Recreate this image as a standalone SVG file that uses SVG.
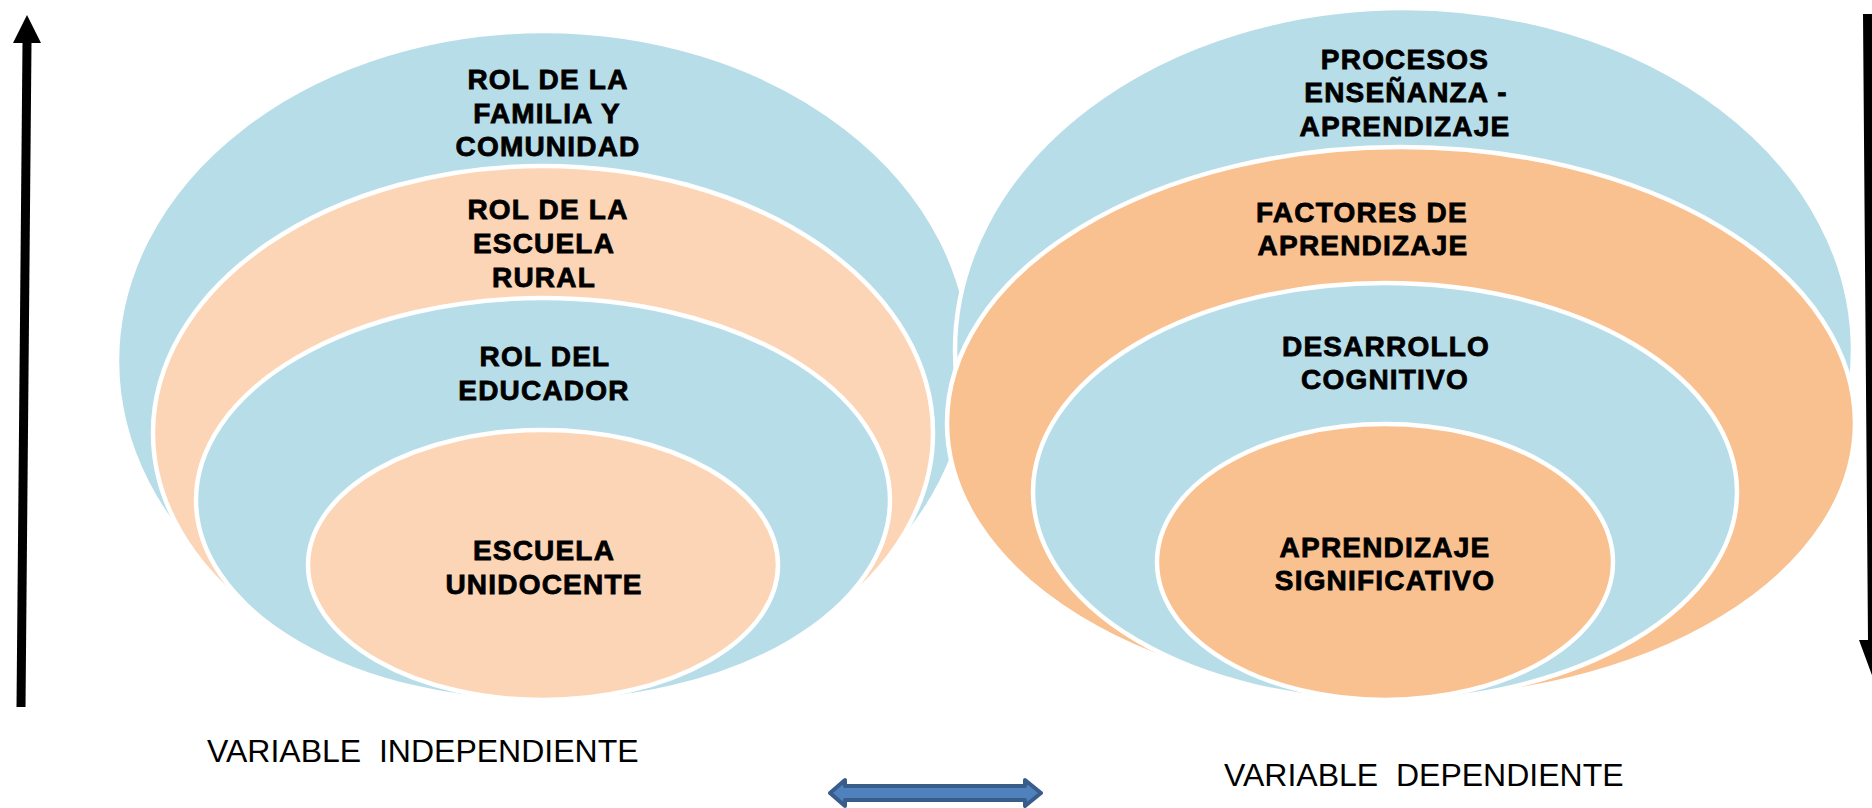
<svg xmlns="http://www.w3.org/2000/svg" width="1872" height="808" viewBox="0 0 1872 808">
<style>
.blue{fill:#B7DDE8;stroke:#FFFFFF;stroke-width:4.5}
.orl{fill:#FBD5B5;stroke:#FFFFFF;stroke-width:4.5}
.ord{fill:#F9C090;stroke:#FFFFFF;stroke-width:4.5}
.t{font-family:"Liberation Sans",Arial,sans-serif;font-weight:bold;font-size:28px;letter-spacing:1.2px;fill:#000;stroke:#000;stroke-width:0.8;text-anchor:middle}
.lab{font-family:"Liberation Sans",Arial,sans-serif;font-size:32px;fill:#000;white-space:pre}
</style>
<rect width="1872" height="808" fill="#FFFFFF"/>
<g id="left-outer"><ellipse class="blue" cx="544" cy="361" rx="427" ry="330"/><text class="t" x="548" y="89">ROL DE LA</text><text class="t" x="547" y="123">FAMILIA Y</text><text class="t" x="548" y="156">COMUNIDAD</text></g>
<g id="left-second"><ellipse class="orl" cx="543" cy="433" rx="390" ry="267"/><text class="t" x="548" y="219">ROL DE LA</text><text class="t" x="544" y="253">ESCUELA</text><text class="t" x="544" y="287">RURAL</text></g>
<g id="left-third"><ellipse class="blue" cx="543" cy="500" rx="347" ry="202"/><text class="t" x="545" y="366">ROL DEL</text><text class="t" x="544" y="400">EDUCADOR</text></g>
<g id="left-inner"><ellipse class="orl" cx="543" cy="565" rx="235" ry="135"/><text class="t" x="544" y="560">ESCUELA</text><text class="t" x="544" y="594">UNIDOCENTE</text></g>
<g id="right-outer"><ellipse class="blue" cx="1404" cy="350" rx="449" ry="342"/><text class="t" x="1405" y="69">PROCESOS</text><text class="t" x="1406" y="102">ENSEÑANZA -</text><text class="t" x="1405" y="136">APRENDIZAJE</text></g>
<g id="right-second"><ellipse class="ord" cx="1401" cy="423" rx="454" ry="276"/><text class="t" x="1362" y="222">FACTORES DE</text><text class="t" x="1363" y="255">APRENDIZAJE</text></g>
<g id="right-third"><ellipse class="blue" cx="1385" cy="492" rx="352" ry="209"/><text class="t" x="1386" y="356">DESARROLLO</text><text class="t" x="1385" y="389">COGNITIVO</text></g>
<g id="right-inner"><ellipse class="ord" cx="1385" cy="562" rx="228" ry="138"/><text class="t" x="1385" y="557">APRENDIZAJE</text><text class="t" x="1385" y="590">SIGNIFICATIVO</text></g>
<g id="connectors">
<polygon points="22.5,42 31.5,42 25.5,707 16.5,707" fill="#000"/>
<polygon points="13,43 27,15 41,43" fill="#000"/>
<polygon points="1863,14 1873,14 1878,640 1887,640 1873,678 1859,640 1868,640" fill="#000"/>
<polygon points="830,793 845,780 845,786 1025,786 1025,780 1041,793 1025,806 1025,800 845,800 845,806" fill="#4F81BD" stroke="#385D8A" stroke-width="4" stroke-linejoin="round"/>
</g>
<g id="labels">
<text class="lab" x="207" y="762" xml:space="preserve">VARIABLE  INDEPENDIENTE</text>
<text class="lab" x="1224" y="786" xml:space="preserve">VARIABLE  DEPENDIENTE</text>
</g>
</svg>
